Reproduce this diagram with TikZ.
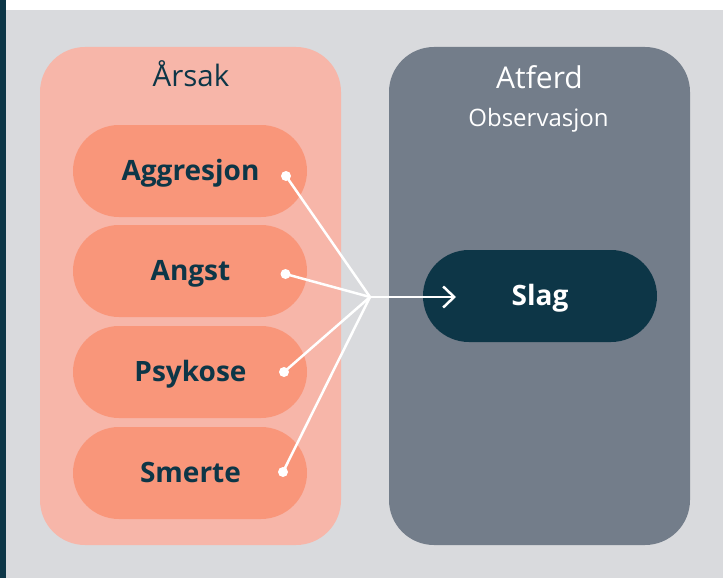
\documentclass[tikz,border=0pt]{standalone}
\usepackage{fontspec}
\setmainfont{Open Sans}
\usetikzlibrary{arrows.meta}
\definecolor{bggray}{HTML}{D9DADD}
\definecolor{navy}{HTML}{0D3647}
\definecolor{paleSalmon}{HTML}{F7B6A9}
\definecolor{salmon}{HTML}{F9967A}
\definecolor{slate}{HTML}{737D8A}
\tikzset{
  panel/.style={rounded corners=45pt},
  pill/.style={draw=none, rounded corners=46pt, minimum width=234pt,
    minimum height=92pt, inner sep=0pt},
  cause/.style={pill, fill=salmon},
  behaviour/.style={pill, fill=navy},
  pilltext/.style={anchor=base, inner sep=0pt, font=\bfseries\fontsize{28}{31}\selectfont},
  dot/.style={circle, fill=white, draw=none, minimum size=10pt, inner sep=0pt},
  link/.style={white, line width=2.5pt},
}
\begin{document}
\begin{tikzpicture}[x=1pt, y=-1pt]
  % page
  \useasboundingbox (0,0) rectangle (723,578);
  \fill[bggray] (0,0) rectangle (723,578);
  \fill[white] (6,0) rectangle (723,10);
  \fill[navy] (0,0) rectangle (6,578);

  % panels
  \fill[paleSalmon, panel] (40,47) rectangle (341,545);
  \fill[slate, panel] (389,47) rectangle (690,545);

  \node[anchor=base, inner sep=0pt, text=navy, font=\fontsize{29.5}{32}\selectfont] (cause title) at (191,87) {Årsak};
  \node[anchor=base, inner sep=0pt, text=white, font=\fontsize{30}{33}\selectfont] (beh title) at (539.5,88.5) {Atferd};
  \node[anchor=base, inner sep=0pt, text=white, font=\fontsize{24}{27}\selectfont] (beh sub) at (538.5,126) {Observasjon};

  % causes
  \node[cause] (aggr) at (190,171) {};
  \node[cause] (angst) at (190,271) {};
  \node[cause] (psyk) at (190,372) {};
  \node[cause] (smerte) at (190,473) {};
  \node[pilltext, text=navy] (aggr text) at (190.5,180.5) {Aggresjon};
  \node[pilltext, text=navy] (angst text) at (190.5,280.5) {Angst};
  \node[pilltext, text=navy] (psyk text) at (190.5,381.5) {Psykose};
  \node[pilltext, text=navy] (smerte text) at (190.5,482.5) {Smerte};

  % observed behaviour
  \node[behaviour] (slag) at (540,296) {};
  \node[pilltext, text=white] (slag text) at (540,305) {Slag};

  % connectors
  \node[dot] (d1) at (286,176) {};
  \node[dot] (d2) at (285.5,274) {};
  \node[dot] (d3) at (284,372) {};
  \node[dot] (d4) at (283,472) {};
  \coordinate (hub) at (370,297);
  \coordinate (tip) at (456,297);
  \draw[link] (d1.center) -- (hub);
  \draw[link] (d2.center) -- (hub);
  \draw[link] (d3.center) -- (hub);
  \draw[link] (d4.center) -- (hub);
  \draw[link, -{Straight Barb[length=11pt, width=21pt, line width=2.5pt]}] (hub) -- (tip);
\end{tikzpicture}
\end{document}
